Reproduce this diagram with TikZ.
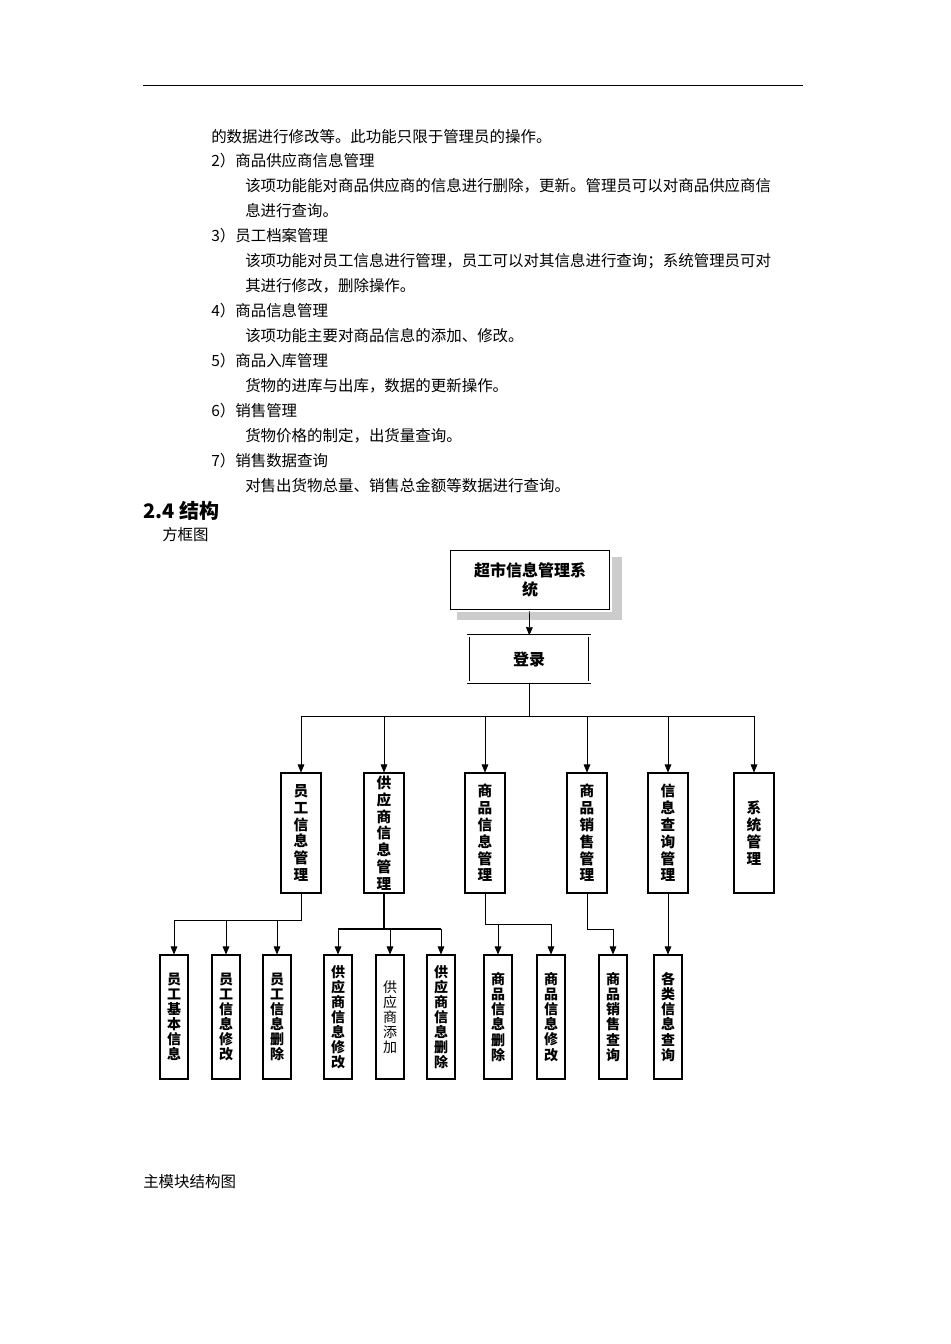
\documentclass[tikz,border=0pt]{standalone}
\usepackage{fontspec}
\setmainfont{Noto Sans CJK SC}
\usetikzlibrary{arrows.meta}
\tikzset{
 txt/.style={anchor=west,inner sep=0,font=\fontsize{11.6}{12}\selectfont},
 lv2/.style={draw,line width=0.8pt,minimum width=30pt,minimum height=90pt,inner sep=0,align=center,font=\fontsize{11}{12.6}\selectfont\bfseries},
 lv3/.style={draw,line width=0.8pt,minimum width=21pt,minimum height=93pt,inner sep=0,align=center,font=\fontsize{10.5}{11.3}\selectfont\bfseries},
 ar/.style={-{Triangle[length=6pt,width=5pt]},line width=0.5pt},
 ln/.style={line width=0.5pt}
}
\begin{document}
\begin{tikzpicture}[x=0.75pt,y=-0.75pt]
\useasboundingbox (0,0) rectangle (950,1344);
\draw[line width=0.6pt] (143,85) -- (803,85);
\node[txt] (t1) at (211,137) {的数据进行修改等。此功能只限于管理员的操作。};
\node[txt] (t2) at (211,161) {2）商品供应商信息管理};
\node[txt] (t3) at (245,186) {该项功能能对商品供应商的信息进行删除，更新。管理员可以对商品供应商信};
\node[txt] (t4) at (245,211) {息进行查询。};
\node[txt] (t5) at (211,236) {3）员工档案管理};
\node[txt] (t6) at (245,261) {该项功能对员工信息进行管理，员工可以对其信息进行查询；系统管理员可对};
\node[txt] (t7) at (245,286) {其进行修改，删除操作。};
\node[txt] (t8) at (211,311) {4）商品信息管理};
\node[txt] (t9) at (245,336) {该项功能主要对商品信息的添加、修改。};
\node[txt] (t10) at (211,361) {5）商品入库管理};
\node[txt] (t11) at (245,386) {货物的进库与出库，数据的更新操作。};
\node[txt] (t12) at (211,411) {6）销售管理};
\node[txt] (t13) at (245,436) {货物价格的制定，出货量查询。};
\node[txt] (t14) at (211,461) {7）销售数据查询};
\node[txt] (t15) at (245,486) {对售出货物总量、销售总金额等数据进行查询。};
\node[txt,font=\fontsize{15}{16}\selectfont\bfseries] (h) at (143,511) {2.4 结构};
\node[txt] (fk) at (162,535) {方框图};
\node[txt] (cap) at (143,1182) {主模块结构图};
% top
\fill[black!20] (457,557) rectangle (622,620);
\node[draw,line width=0.6pt,double,double distance=1.5pt,fill=white,minimum width=121pt,minimum height=46pt,inner sep=0,align=center,font=\fontsize{12}{14}\selectfont\bfseries] (sys) at (530,580) {超市信息管理系\\统};
\node[draw,line width=0.6pt,double,double distance=1.5pt,fill=white,minimum width=91pt,minimum height=35pt,inner sep=0,font=\fontsize{12}{14}\selectfont\bfseries] (login) at (529,659) {登录};
\draw[ar] (sys) -- (login);
\coordinate (hub) at (529,716);
\draw[ln] (login) -- (hub);
\draw[ln] (301,716) -- (754,716);
\node[lv2] (a) at (301,833) {员\\工\\信\\息\\管\\理};
\node[lv2] (b) at (384,833) {供\\应\\商\\信\\息\\管\\理};
\node[lv2] (c) at (485,833) {商\\品\\信\\息\\管\\理};
\node[lv2] (d) at (587,833) {商\\品\\销\\售\\管\\理};
\node[lv2] (e) at (668,833) {信\\息\\查\\询\\管\\理};
\node[lv2] (f) at (754,833) {系\\统\\管\\理};
\foreach \n/\x in {a/301,b/384,c/485,d/587,e/668,f/754}{
 \coordinate (top\n) at (\x,716);
 \draw[ar] (top\n) -- (\n.north);
}
\node[lv3] (a1) at (174,1017) {员\\工\\基\\本\\信\\息};
\node[lv3] (a2) at (226,1017) {员\\工\\信\\息\\修\\改};
\node[lv3] (a3) at (277,1017) {员\\工\\信\\息\\删\\除};
\node[lv3] (b1) at (338,1017) {供\\应\\商\\信\\息\\修\\改};
\node[lv3,font=\fontsize{10.5}{11.3}\selectfont] (b2) at (390,1017) {供\\应\\商\\添\\加};
\node[lv3] (b3) at (441,1017) {供\\应\\商\\信\\息\\删\\除};
\node[lv3] (c1) at (498,1017) {商\\品\\信\\息\\删\\除};
\node[lv3] (c2) at (551,1017) {商\\品\\信\\息\\修\\改};
\node[lv3] (d1) at (613,1017) {商\\品\\销\\售\\查\\询};
\node[lv3] (e1) at (668,1017) {各\\类\\信\\息\\查\\询};
% branches
\coordinate (ja) at (301,920);
\draw[ln] (a.south) -- (ja) -- (174,920);
\foreach \n/\x in {a1/174,a2/226,a3/277}{\coordinate (p\n) at (\x,920); \draw[ar] (p\n) -- (\n.north);}
\coordinate (jb) at (384,929);
\draw[ln,line width=0.8pt] (b.south) -- (jb);
\draw[ln,line width=0.8pt] (338,929) -- (441,929);
\foreach \n/\x in {b1/338,b2/390,b3/441}{\coordinate (p\n) at (\x,929); \draw[ar] (p\n) -- (\n.north);}
\coordinate (jc) at (485,924);
\draw[ln] (c.south) -- (jc) -- (551,924);
\foreach \n/\x in {c1/498,c2/551}{\coordinate (p\n) at (\x,924); \draw[ar] (p\n) -- (\n.north);}
\coordinate (jd) at (587,929);
\coordinate (pd1) at (613,929);
\draw[ln] (d.south) -- (jd) -- (pd1);
\draw[ar] (pd1) -- (d1.north);
\draw[ar] (e.south) -- (e1.north);
\end{tikzpicture}
\end{document}
